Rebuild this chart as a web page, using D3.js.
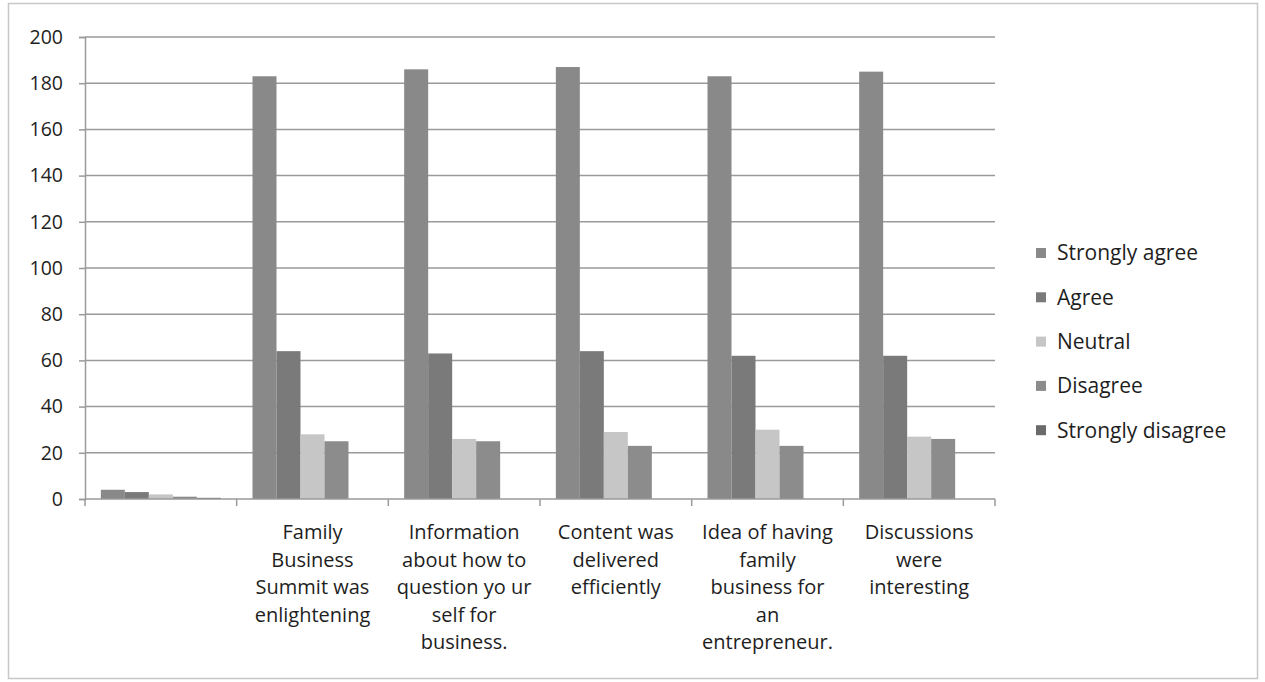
<!DOCTYPE html>
<html>
<head>
<meta charset="utf-8">
<script src="https://cdn.jsdelivr.net/npm/d3@7"></script>
<style>
  body { margin: 0; background: #fff; }
  svg { display: block; }
  text { font-family: "Open Sans", "DejaVu Sans", sans-serif; fill: #1e1e1e; }
</style>
</head>
<body>
<svg id="chart" width="1265" height="682"></svg>
<script>
const categories = [
  "",
  "Family Business Summit was enlightening",
  "Information about how to question your self for business.",
  "Content was delivered efficiently",
  "Idea of having family business for an entrepreneur.",
  "Discussions were interesting"
];
const categoryLines = [
  [],
  ["Family", "Business", "Summit was", "enlightening"],
  ["Information", "about how to", "question yo ur", "self for", "business."],
  ["Content was", "delivered", "efficiently"],
  ["Idea of having", "family", "business for", "an", "entrepreneur."],
  ["Discussions", "were", "interesting"]
];
const seriesNames = ["Strongly agree", "Agree", "Neutral", "Disagree", "Strongly disagree"];
const stronglyAgree    = [4, 183, 186, 187, 183, 185];
const agree            = [3, 64, 63, 64, 62, 62];
const neutral          = [2, 28, 26, 29, 30, 27];
const disagree         = [1, 25, 25, 23, 23, 26];
const stronglyDisagree = [0.5, 0, 0, 0, 0, 0];
const yTicks = [0, 20, 40, 60, 80, 100, 120, 140, 160, 180, 200];

const seriesValues = [stronglyAgree, agree, neutral, disagree, stronglyDisagree];
const colors = ["#898989", "#7a7a7a", "#c6c6c6", "#8c8c8c", "#6a6a6a"];

const svg = d3.select("#chart");

// outer frame
svg.append("rect").attr("x", 8.5).attr("y", 3.5).attr("width", 1249).attr("height", 675)
  .attr("fill", "none").attr("stroke", "#c8c8c8").attr("stroke-width", 1.5);

const mLeft = 85, mRight = 995, mTop = 37, mBottom = 499;

const x0 = d3.scaleBand().domain(d3.range(categories.length)).range([mLeft, mRight]).paddingInner(0).paddingOuter(0);
const x1 = d3.scaleBand().domain(d3.range(seriesNames.length)).range([0, x0.bandwidth()]).paddingOuter(0.66).paddingInner(0);
const y = d3.scaleLinear().domain([0, 200]).range([mBottom, mTop]);

// gridlines
svg.append("g").selectAll("line").data(yTicks.filter(d => d > 0)).join("line")
  .attr("x1", mLeft).attr("x2", mRight)
  .attr("y1", d => y(d)).attr("y2", d => y(d))
  .attr("stroke", "#9a9a9a").attr("stroke-width", 1.5);

// y axis
const yAxis = svg.append("g").attr("transform", `translate(${mLeft},0)`)
  .call(d3.axisLeft(y).tickValues(yTicks).tickSize(6).tickPadding(16));
yAxis.select(".domain").attr("stroke", "#9a9a9a").attr("stroke-width", 1.5);
yAxis.selectAll(".tick line").attr("stroke", "#9a9a9a").attr("stroke-width", 1.5);
yAxis.selectAll(".tick text").attr("font-size", 19.5).attr("fill", "#1e1e1e")
  .style("font-family", '"Open Sans", sans-serif');

// bars
const groups = svg.append("g").selectAll("g").data(categories.map((c, i) => i)).join("g")
  .attr("transform", i => `translate(${x0(i)},0)`);
groups.selectAll("rect").data(i => seriesValues.map((s, k) => ({k, v: s[i]}))).join("rect")
  .attr("x", d => x1(d.k))
  .attr("width", x1.bandwidth())
  .attr("y", d => y(d.v))
  .attr("height", d => y(0) - y(d.v))
  .attr("fill", d => colors[d.k]);

// x axis
const xAxisG = svg.append("g").attr("transform", `translate(0,${mBottom})`);
xAxisG.append("line").attr("x1", mLeft).attr("x2", mRight).attr("y1", 0).attr("y2", 0)
  .attr("stroke", "#9a9a9a").attr("stroke-width", 1.5);
xAxisG.selectAll("line.tk").data(d3.range(categories.length + 1)).join("line")
  .attr("class", "tk")
  .attr("x1", i => i < categories.length ? x0(i) : mRight)
  .attr("x2", i => i < categories.length ? x0(i) : mRight)
  .attr("y1", 0).attr("y2", 7)
  .attr("stroke", "#9a9a9a").attr("stroke-width", 1.5);

const labels = svg.append("g").selectAll("text").data(categories.map((c, i) => i)).join("text")
  .attr("text-anchor", "middle")
  .attr("font-size", 20)
  .attr("x", i => x0(i) + x0.bandwidth() / 2)
  .attr("y", 539);
labels.selectAll("tspan").data(i => categoryLines[i]).join("tspan")
  .attr("x", function() { return d3.select(this.parentNode).attr("x"); })
  .attr("dy", (d, j) => j === 0 ? 0 : 27.5)
  .text(d => d);

// legend
const legend = svg.append("g").selectAll("g").data(seriesNames).join("g")
  .attr("transform", (d, i) => `translate(1036,${253 + i * 44.3})`);
legend.append("rect").attr("x", 0).attr("y", -5).attr("width", 10).attr("height", 10)
  .attr("fill", (d, i) => colors[i]);
legend.append("text").attr("x", 21).attr("y", 0).attr("dy", "0.35em")
  .attr("font-size", 21).text(d => d);
</script>
</body>
</html>
